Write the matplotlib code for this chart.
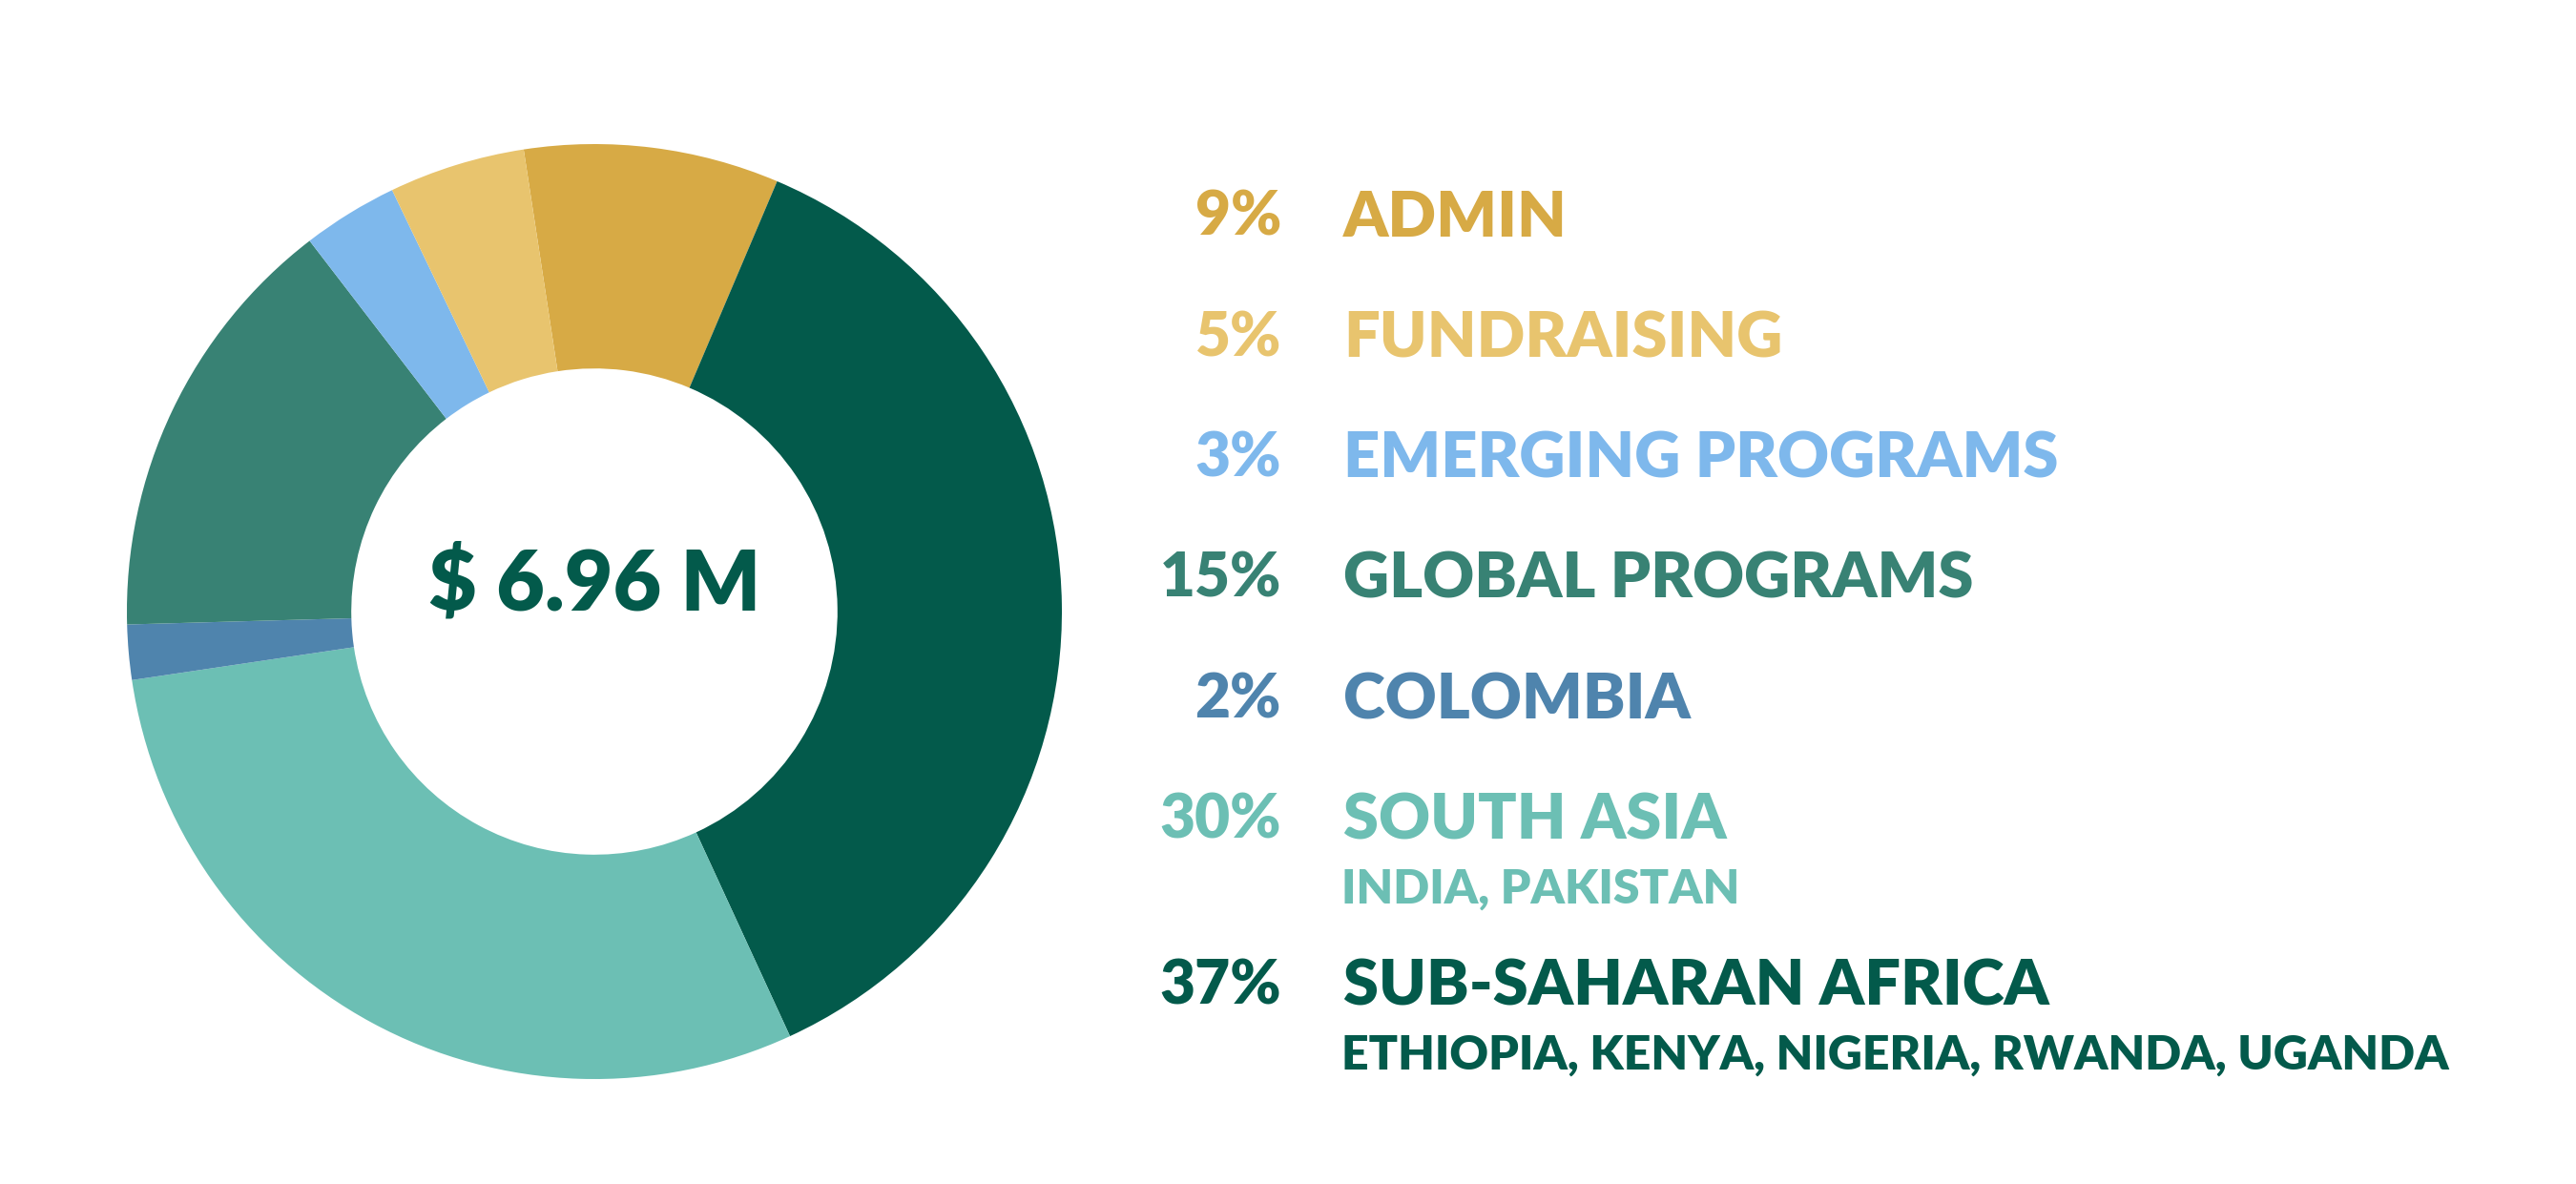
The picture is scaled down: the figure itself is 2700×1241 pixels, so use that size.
import matplotlib
matplotlib.use("Agg")
import matplotlib.pyplot as plt

# ── data ──────────────────────────────────────────────────────────────────────
categories = ["ADMIN", "SUB-SAHARAN AFRICA", "SOUTH ASIA", "COLOMBIA",
              "GLOBAL PROGRAMS", "EMERGING PROGRAMS", "FUNDRAISING"]
shares     = [8.8, 36.7, 29.5, 1.9, 15.0, 3.3, 4.7]
pct_labels = [9, 37, 30, 2, 15, 3, 5]                        # printed figures
subtitles  = {"SOUTH ASIA": "INDIA, PAKISTAN",
              "SUB-SAHARAN AFRICA": "ETHIOPIA, KENYA, NIGERIA, RWANDA, UGANDA"}
legend_order = ["ADMIN", "FUNDRAISING", "EMERGING PROGRAMS", "GLOBAL PROGRAMS",
                "COLOMBIA", "SOUTH ASIA", "SUB-SAHARAN AFRICA"]
total_label = "$ 6.96 M"

# ── colors ────────────────────────────────────────────────────────────────────
C = {
    "ADMIN":              "#D7AA45",
    "FUNDRAISING":        "#E8C46E",
    "EMERGING PROGRAMS":  "#7EB8EC",
    "GLOBAL PROGRAMS":    "#388274",
    "COLOMBIA":           "#4F84AD",
    "SOUTH ASIA":         "#6CBFB4",
    "SUB-SAHARAN AFRICA": "#035A4B",
}

FONT = "Lato"
W, H, DPI = 2700, 1241, 100

fig = plt.figure(figsize=(W / DPI, H / DPI), dpi=DPI, facecolor="white")

# ── donut ─────────────────────────────────────────────────────────────────────
CX, CY, R = 623, 641, 490           # pixel centre / radius (from top)
ax = fig.add_axes([(CX - R) / W, (H - CY - R) / H, 2 * R / W, 2 * R / H])
ax.pie(shares, colors=[C[c] for c in categories], startangle=98.7,
       counterclock=False, radius=1.0,
       wedgeprops=dict(width=0.48, edgecolor="none", linewidth=0))
ax.set_xlim(-1, 1); ax.set_ylim(-1, 1)
ax.axis("off")

# ── overlay for text (pixel coords, y down) ───────────────────────────────────
ov = fig.add_axes([0, 0, 1, 1])
ov.set_xlim(0, W); ov.set_ylim(H, 0)
ov.axis("off"); ov.patch.set_alpha(0)

ov.text(CX, 614, total_label, color=C["SUB-SAHARAN AFRICA"], fontsize=63,
        fontweight="heavy", family=FONT, ha="center", va="center")

pct_of = dict(zip(categories, pct_labels))
row_y = [228, 355, 481, 607, 734, 860, 1034]
for name, y in zip(legend_order, row_y):
    col = C[name]
    ov.text(1343, y, f"{pct_of[name]}%", color=col, fontsize=46,
            fontweight="heavy", family=FONT, ha="right", va="center")
    ov.text(1408, y, name, color=col, fontsize=48,
            fontweight="heavy", family=FONT, ha="left", va="center")
    if name in subtitles:
        ov.text(1406, y + 72, subtitles[name], color=col, fontsize=36,
                fontweight="heavy", family=FONT, ha="left", va="center")

fig.savefig("out.png", dpi=DPI, facecolor="white")
